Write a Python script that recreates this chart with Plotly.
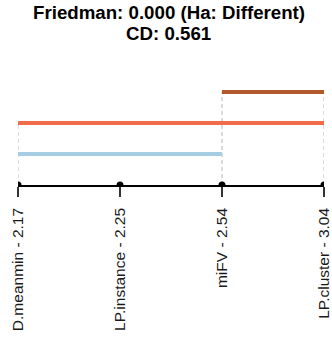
import plotly.graph_objects as go

# Average ranks per method
methods = ["D.meanmin", "LP.instance", "miFV", "LP.cluster"]
ranks = [2.17, 2.25, 2.54, 3.04]
friedman_p = 0.000
critical_diff = 0.561

# Groups of methods joined by a bar: (first method index, last method index)
group_spans = [(0, 2), (0, 3), (2, 3)]
group_colors = ["#A6CEE3", "#F26B4A", "#B15928"]

positions = list(range(1, len(methods) + 1))
tick_text = [f"{m} - {r:.2f}" for m, r in zip(methods, ranks)]

fig = go.Figure()

# dashed guides from the highest bar touching each method down to the axis
top_level = {}
for lvl, (a, b) in enumerate(group_spans, start=1):
    for idx in (a, b):
        top_level[idx] = max(top_level.get(idx, 0), lvl)
for idx, lvl in sorted(top_level.items()):
    fig.add_trace(go.Scatter(
        x=[positions[idx], positions[idx]], y=[0, lvl],
        mode="lines", line=dict(color="#cfcfcf", width=1.5, dash="4px,3px"),
        hoverinfo="skip", showlegend=False, cliponaxis=False,
    ))

# group bars
for lvl, ((a, b), col) in enumerate(zip(group_spans, group_colors), start=1):
    fig.add_trace(go.Scatter(
        x=[positions[a], positions[b]], y=[lvl, lvl],
        mode="lines", line=dict(color=col, width=4),
        hoverinfo="skip", showlegend=False, cliponaxis=False,
    ))

# method points on the axis
fig.add_trace(go.Scatter(
    x=positions, y=[0] * len(positions), mode="markers",
    marker=dict(color="black", size=7), showlegend=False, cliponaxis=True,
))

# two-line bold heading, centred on the page
heading = [
    (f"<b>Friedman: {friedman_p:.3f} (Ha: Different)</b>", 37.5),
    (f"<b>CD: {critical_diff:.3f}</b>", 17),
]
for text, shift in heading:
    fig.add_annotation(
        text=text, xref="paper", yref="paper",
        x=0.5 - 2.5 / 306, y=1, yshift=shift,
        xanchor="center", yanchor="middle", showarrow=False,
        font=dict(size=18.7, color="black"),
    )

fig.update_layout(
    width=332, height=337,
    margin=dict(l=18, r=8, t=50, b=152, autoexpand=False),
    paper_bgcolor="white", plot_bgcolor="white",
    font=dict(family="Liberation Sans, Arial, sans-serif", color="#1a1a1a"),
    xaxis=dict(
        range=[1, len(methods)], tickvals=positions, ticktext=tick_text,
        tickangle=-90, tickfont=dict(size=15.5, color="#1a1a1a"),
        ticks="outside", ticklen=10, tickwidth=1.5, tickcolor="#333",
        ticklabelstandoff=5, ticklabeloverflow="allow", automargin=False,
        showline=True, linecolor="black", linewidth=1.5,
        showgrid=False, zeroline=False, fixedrange=True,
    ),
    yaxis=dict(range=[0, 4.35], visible=False, showgrid=False, zeroline=False),
)

fig.write_html("out.html")
